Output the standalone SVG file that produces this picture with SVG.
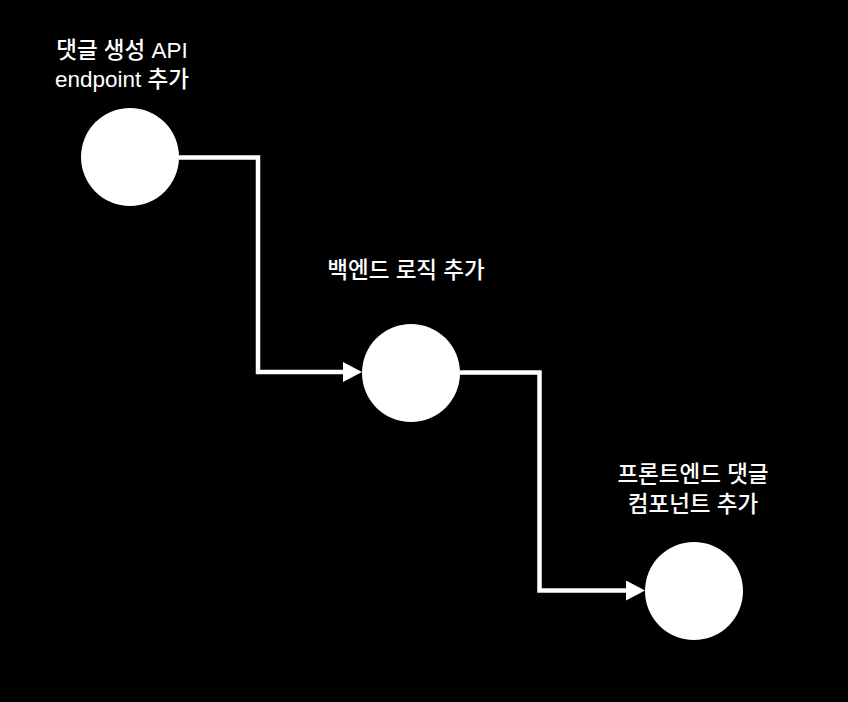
<svg xmlns="http://www.w3.org/2000/svg" width="848" height="702" viewBox="0 0 848 702">
<style>
.lbl{font-family:"Liberation Sans","Noto Sans CJK KR",sans-serif;font-size:22.5px;font-weight:500;fill:#fff;text-anchor:middle}
.node{fill:#fff}
.edge{fill:none;stroke:#fff;stroke-width:4.5}
</style>
<defs>
<marker id="arr" markerUnits="userSpaceOnUse" markerWidth="20" markerHeight="22" refX="0" refY="10" orient="auto">
<path d="M0,0 L19,10 L0,20 Z" fill="#fff"/>
</marker>
</defs>
<rect width="848" height="702" fill="#000"/>
<g id="connectors">
<path class="edge" d="M179,157.5 H258 V372 H343" marker-end="url(#arr)"/>
<path class="edge" d="M460,372.5 H539.5 V590.5 H626" marker-end="url(#arr)"/>
</g>
<g id="node1">
<circle class="node" cx="130" cy="157" r="49"/>
<text class="lbl" x="122" y="58">댓글 생성 API</text>
<text class="lbl" x="122" y="87">endpoint 추가</text>
</g>
<g id="node2">
<circle class="node" cx="411" cy="373" r="49"/>
<text class="lbl" x="406" y="278">백엔드 로직 추가</text>
</g>
<g id="node3">
<circle class="node" cx="694" cy="591" r="49"/>
<text class="lbl" x="693" y="482">프론트엔드 댓글</text>
<text class="lbl" x="693" y="512">컴포넌트 추가</text>
</g>
</svg>
